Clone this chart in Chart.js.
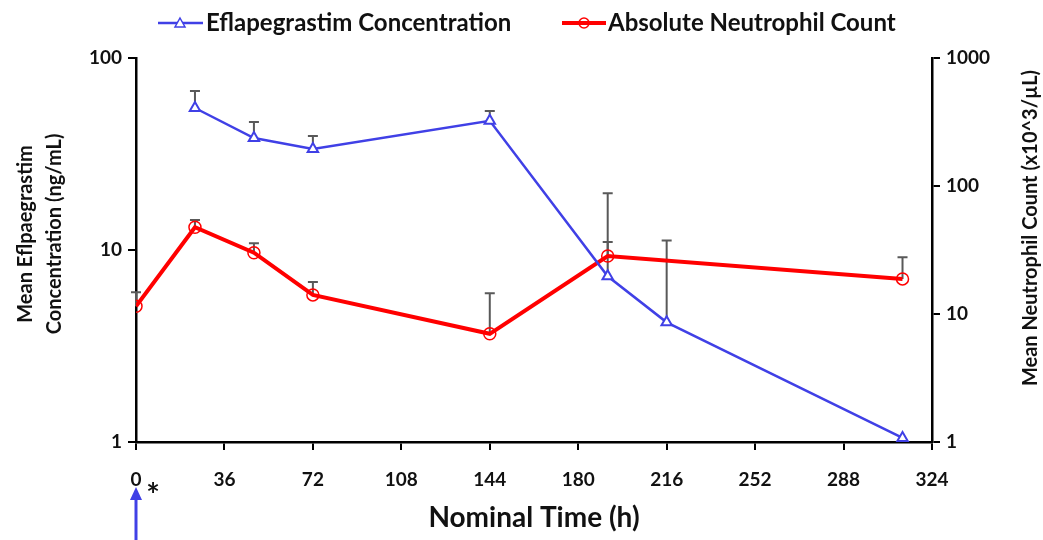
<!DOCTYPE html>
<html>
<head>
<meta charset="utf-8">
<script src="https://cdn.jsdelivr.net/npm/chart.js@4/dist/chart.umd.min.js"></script>
<style>
  body { margin: 0; background: #fff; }
  #wrap { width: 1043px; height: 540px; }
</style>
</head>
<body>
<div id="wrap"><canvas id="myChart"></canvas></div>
<script>
'use strict';

// data
let eflaTimes = [24, 48, 72, 144, 192, 216, 312];
let eflaMean = [54.9, 38.3, 33.6, 47.1, 7.3, 4.2, 1.05];
let eflaUpper = [67.3, 46.4, 39.2, 52.9, 11.0, 11.2, null];

let ancTimes = [0, 24, 48, 72, 144, 192, 312];
let ancMean = [11.5, 47.6, 30.1, 14.1, 7.0, 28.4, 18.8];
let ancUpper = [14.8, 54.2, 35.7, 17.8, 14.5, 87.7, 27.7];

let xTicks = [0, 36, 72, 108, 144, 180, 216, 252, 288, 324];
let leftTicks = [1, 10, 100];
let rightTicks = [1, 10, 100, 1000];

let blue = '#4040e6';
let red = '#ff0000';
let fontName = 'Lato, "Open Sans", sans-serif';

function toPoints(times, values) {
    let pts = [];
    for (let i = 0; i < times.length; i++) {
        pts.push({ x: times[i], y: values[i] });
    }
    return pts;
}

function fixTicks(list) {
    return function (scale) {
        scale.ticks = list.map(v => ({ value: v }));
    };
}

// error bars (upper only), drawn below the lines
let errorBars = {
    id: 'errorBars',
    beforeDatasetsDraw(chart) {
        let ctx = chart.ctx;
        let sets = [
            { times: eflaTimes, mean: eflaMean, upper: eflaUpper, axis: 'y' },
            { times: ancTimes, mean: ancMean, upper: ancUpper, axis: 'y2' }
        ];
        ctx.save();
        ctx.strokeStyle = '#595959';
        ctx.lineWidth = 2;
        sets.forEach(s => {
            let ys = chart.scales[s.axis];
            for (let i = 0; i < s.times.length; i++) {
                if (s.upper[i] == null) continue;
                let px = chart.scales.x.getPixelForValue(s.times[i]);
                let y0 = ys.getPixelForValue(s.mean[i]);
                let y1 = ys.getPixelForValue(s.upper[i]);
                ctx.beginPath();
                ctx.moveTo(px, y0);
                ctx.lineTo(px, y1);
                ctx.moveTo(px - 5, y1);
                ctx.lineTo(px + 5, y1);
                ctx.stroke();
            }
        });
        ctx.restore();
    }
};

// legend, axis titles, dosing arrow
let extras = {
    id: 'extras',
    afterDraw(chart) {
        let ctx = chart.ctx;
        let area = chart.chartArea;
        ctx.save();
        ctx.fillStyle = '#111';
        ctx.textBaseline = 'middle';

        // legend
        ctx.font = 'bold 24px ' + fontName;
        ctx.lineWidth = 2.5;
        ctx.strokeStyle = blue;
        ctx.beginPath();
        ctx.moveTo(158, 23);
        ctx.lineTo(203, 23);
        ctx.stroke();
        ctx.lineWidth = 1.5;
        ctx.beginPath();
        ctx.moveTo(180, 18);
        ctx.lineTo(185, 27);
        ctx.lineTo(175, 27);
        ctx.closePath();
        ctx.fillStyle = '#fff';
        ctx.fill();
        ctx.stroke();
        ctx.fillStyle = '#111';
        ctx.textAlign = 'left';
        ctx.fillText('Eflapegrastim Concentration', 206, 23);

        ctx.lineWidth = 4;
        ctx.strokeStyle = red;
        ctx.beginPath();
        ctx.moveTo(562, 23);
        ctx.lineTo(606, 23);
        ctx.stroke();
        ctx.lineWidth = 1.5;
        ctx.beginPath();
        ctx.arc(584, 23, 5, 0, Math.PI * 2);
        ctx.stroke();
        ctx.fillText('Absolute Neutrophil Count', 608, 23);

        // left title
        ctx.font = 'bold 20px ' + fontName;
        ctx.textAlign = 'center';
        ctx.save();
        ctx.translate(26, 234);
        ctx.rotate(-Math.PI / 2);
        ctx.fillText('Mean Eflpaegrastim', 0, 0);
        ctx.fillText('Concentration (ng/mL)', 0, 29);
        ctx.restore();

        // right title
        ctx.save();
        ctx.translate(1031, 228);
        ctx.rotate(-Math.PI / 2);
        ctx.fillText('Mean Neutrophil Count (x10^3/\u00b5L)', 0, 0);
        ctx.restore();

        // x title
        ctx.font = 'bold 28px ' + fontName;
        ctx.fillText('Nominal Time (h)', (area.left + area.right) / 2, 518);

        // dosing arrow
        let ax = chart.scales.x.getPixelForValue(0);
        ctx.strokeStyle = blue;
        ctx.fillStyle = blue;
        ctx.lineWidth = 3;
        ctx.beginPath();
        ctx.moveTo(ax, 540);
        ctx.lineTo(ax, 498);
        ctx.stroke();
        ctx.beginPath();
        ctx.moveTo(ax, 487);
        ctx.lineTo(ax + 6, 500);
        ctx.lineTo(ax - 6, 500);
        ctx.closePath();
        ctx.fill();
        ctx.fillStyle = '#111';
        ctx.font = 'bold 32px ' + fontName;
        ctx.fillText('*', ax + 17, 497);
        ctx.restore();
    }
};

let axisCommon = {
    border: { display: true, color: '#000', width: 2.5 },
    grid: { display: true, drawOnChartArea: false, drawTicks: true, tickLength: 8, color: '#000', lineWidth: 2 },
    ticks: { color: '#111', font: { family: fontName, size: 19, weight: 'bold' }, padding: 6 }
};

let chartObject = {
    type: 'line',
    data: {
        datasets: [{
            label: 'Eflapegrastim Concentration',
            data: toPoints(eflaTimes, eflaMean),
            yAxisID: 'y',
            borderColor: blue,
            borderWidth: 2.5,
            pointStyle: 'triangle',
            pointRadius: 6,
            pointBorderWidth: 2,
            pointBackgroundColor: '#fff',
            pointBorderColor: blue,
            tension: 0
        },
        {
            label: 'Absolute Neutrophil Count',
            data: toPoints(ancTimes, ancMean),
            yAxisID: 'y2',
            borderColor: red,
            borderWidth: 4,
            pointStyle: 'circle',
            pointRadius: 6,
            pointBorderWidth: 1.5,
            pointBackgroundColor: 'rgba(255,255,255,0)',
            pointBorderColor: red,
            tension: 0
        }]
    },
    options: {
        responsive: true,
        maintainAspectRatio: false,
        animation: false,
        layout: { padding: { top: 58, left: 0, right: 0, bottom: 0 } },
        plugins: { legend: { display: false }, tooltip: { enabled: false } },
        scales: {
            x: {
                type: 'linear',
                min: 0,
                max: 324,
                afterBuildTicks: fixTicks(xTicks),
                afterFit(scale) { scale.height = 98; },
                border: axisCommon.border,
                grid: axisCommon.grid,
                ticks: Object.assign({}, axisCommon.ticks, { padding: 18, maxRotation: 0 })
            },
            y: {
                type: 'logarithmic',
                position: 'left',
                min: 1,
                max: 100,
                afterBuildTicks: fixTicks(leftTicks),
                afterFit(scale) { scale.width = 136; },
                border: axisCommon.border,
                grid: axisCommon.grid,
                ticks: Object.assign({}, axisCommon.ticks, { callback: v => String(v) })
            },
            y2: {
                type: 'logarithmic',
                position: 'right',
                min: 1,
                max: 1000,
                afterBuildTicks: fixTicks(rightTicks),
                afterFit(scale) { scale.width = 111; },
                border: axisCommon.border,
                grid: axisCommon.grid,
                ticks: Object.assign({}, axisCommon.ticks, { callback: v => String(v) })
            }
        }
    },
    plugins: [errorBars, extras]
};

let ctx = document.getElementById('myChart').getContext('2d');
let myChart = new Chart(ctx, chartObject);
</script>
</body>
</html>
